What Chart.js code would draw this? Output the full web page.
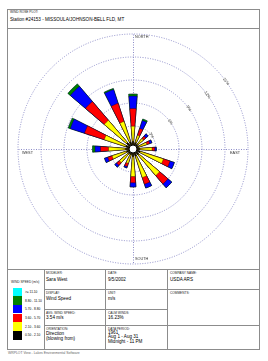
<!DOCTYPE html>
<html>
<head>
<meta charset="utf-8">
<script src="https://cdn.jsdelivr.net/npm/chart.js@4"></script>
<style>
    body { margin: 0; width: 268px; height: 361px; background: #fff; font-family: "Liberation Sans", Arial, sans-serif; color: #000; overflow: hidden; position: relative; }
    .hl { position: absolute; height: 1px; background: #8c8c8c; }
    .vl { position: absolute; width: 1px; background: #8c8c8c; }
    .cap { position: absolute; font-size: 3.2px; line-height: 4px; color: #222; white-space: nowrap; }
    .val { position: absolute; font-size: 4.6px; line-height: 5px; color: #000; white-space: nowrap; }
    .sw { position: absolute; left: 13px; width: 9px; }
    .sl { position: absolute; left: 25px; font-size: 3.2px; line-height: 4px; white-space: nowrap; }
</style>
</head>
<body>
<div style="position:absolute;left:7px;top:9px;width:253px;height:341px;border:1px solid #8c8c8c;box-sizing:border-box;"></div>
<div class="hl" style="left:7px;top:28px;width:253px;"></div>
<div class="hl" style="left:7px;top:269px;width:253px;"></div>
<div class="vl" style="left:44px;top:269px;height:80px;"></div>
<div class="vl" style="left:105px;top:269px;height:80px;"></div>
<div class="vl" style="left:167px;top:269px;height:80px;"></div>
<div class="hl" style="left:44px;top:289px;width:123px;"></div>
<div class="hl" style="left:44px;top:309px;width:123px;"></div>
<div class="hl" style="left:44px;top:325px;width:216px;"></div>
<div class="hl" style="left:167px;top:289px;width:93px;"></div>

<div class="cap" style="left:10px;top:10px;">WIND ROSE PLOT:</div>
<div class="val" style="left:10px;top:16.5px;">Station #24153 - MISSOULA/JOHNSON-BELL FLD, MT</div>

<canvas id="windRose" width="251" height="240" style="position:absolute;left:8px;top:29px;"></canvas>

<div class="cap" style="left:11px;top:280px;">WIND SPEED (m/s)</div>
<div id="speedLegend"></div>

<div class="cap" style="left:46px;top:270.5px;">MODELER:</div>
<div class="val" style="left:46px;top:277px;">Sara West</div>
<div class="cap" style="left:46px;top:290.5px;">DISPLAY:</div>
<div class="val" style="left:46px;top:296px;">Wind Speed</div>
<div class="cap" style="left:46px;top:310.5px;">AVG. WIND SPEED:</div>
<div class="val" style="left:46px;top:314.5px;">3.54 m/s</div>
<div class="cap" style="left:46px;top:326.5px;">ORIENTATION:</div>
<div class="val" style="left:46px;top:331px;">Direction<br>(blowing from)</div>

<div class="cap" style="left:108px;top:270.5px;">DATE:</div>
<div class="val" style="left:108px;top:277px;">9/5/2002</div>
<div class="cap" style="left:108px;top:290.5px;">UNIT:</div>
<div class="val" style="left:108px;top:296px;">m/s</div>
<div class="cap" style="left:108px;top:310.5px;">CALM WINDS:</div>
<div class="val" style="left:108px;top:314.5px;">16.23%</div>
<div class="cap" style="left:108px;top:326.5px;">DATA PERIOD:</div>
<div class="val" style="left:108px;top:330.5px;line-height:4.6px;">1961<br>Aug 1 - Aug 31<br>Midnight - 11 PM</div>

<div class="cap" style="left:170px;top:270.5px;">COMPANY NAME:</div>
<div class="val" style="left:170px;top:277px;">USDA ARS</div>
<div class="cap" style="left:170px;top:290.5px;">COMMENTS:</div>

<div class="cap" style="left:8px;top:351px;font-size:3.4px;color:#666;">WRPLOT View - Lakes Environmental Software</div>

<script>
// 16 directions, frequency (%) of each speed class
const directions = ['N', 'NNE', 'NE', 'ENE', 'E', 'ESE', 'SE', 'SSE', 'S', 'SSW', 'SW', 'WSW', 'W', 'WNW', 'NW', 'NNW'];
const speed1 = [1.0, 0.9, 0.8, 0.8, 0.9, 1.0, 1.0, 1.0, 1.0, 0.8, 0.8, 0.9, 1.0, 1.0, 1.1, 1.0];
const speed2 = [1.97, 0.99, 1.0, 1.1, 1.58, 3.17, 3.56, 2.91, 2.59, 1.16, 1.55, 1.97, 2.19, 2.94, 3.83, 2.78];
const speed3 = [2.31, 0.93, 0.4, 0.4, 0.35, 0.91, 1.44, 0.91, 0.82, 0.45, 0.45, 0.59, 1.05, 2.71, 3.23, 2.48];
const speed4 = [1.63, 1.09, 0.41, 0.3, 0.21, 0.59, 0.65, 0.53, 0.54, 0.2, 0.33, 0.45, 0.71, 1.95, 2.6, 1.89];
const speed5 = [0.26, 0.2, 0, 0, 0, 0, 0, 0, 0, 0, 0, 0, 0.33, 0.27, 0.41, 0.15];
const speed6 = [0, 0, 0, 0, 0, 0, 0, 0, 0, 0, 0, 0, 0, 0, 0, 0];

const speedLabels = ['0.50 - 2.10', '2.10 - 3.60', '3.60 - 5.70', '5.70 - 8.80', '8.80 - 11.10', '>= 11.10'];
const speedColors = ['#000000', '#ffff00', '#ff0000', '#0000ff', '#008000', '#00ffff'];
const rings = [3, 6, 9, 12, 15];

const gridColor = 'rgb(140, 140, 200)';
const petalWidth = 9;
const labelAngle = 54;

// legend boxes, top = highest class
let legendHtml = '';
for (let i = 5; i >= 0; i--) {
    let top = 287.5 + (5 - i) * 8.67;
    legendHtml += '<div class="sw" style="top:' + top + 'px;height:8.67px;background:' + speedColors[i] + '"></div>';
    legendHtml += '<div class="sl" style="top:' + (top + 2.4) + 'px">' + speedLabels[i] + '</div>';
}
document.getElementById('speedLegend').innerHTML = legendHtml;

// slots around the circle: petals and the gaps between them, starting at labelAngle
let slots = [];
let starts = directions.map((d, i) => {
    let a = i * 22.5 - petalWidth / 2;
    while (a < labelAngle) a += 360;
    return {from: a, idx: i};
}).sort((a, b) => a.from - b.from);
let cur = labelAngle;
starts.forEach(s => {
    if (s.from > cur) slots.push({idx: -1, angle: s.from - cur});
    slots.push({idx: s.idx, angle: petalWidth});
    cur = s.from + petalWidth;
});
if (cur < labelAngle + 360) slots.push({idx: -1, angle: labelAngle + 360 - cur});

// stacked (cumulative) values
const classes = [speed1, speed2, speed3, speed4, speed5, speed6];
let cumulative = [];
let running = directions.map(() => 0);
classes.forEach(c => {
    running = running.map((v, i) => v + c[i]);
    cumulative.push(running.slice());
});

const datasets = cumulative.map((cum, k) => ({
    label: speedLabels[k],
    data: slots.map(s => s.idx < 0 ? 0 : cum[s.idx]),
    backgroundColor: speedColors[k],
    borderColor: '#000',
    borderWidth: (c) => slots[c.dataIndex].idx < 0 ? 0 : 0.35,
    angle: (c) => slots[c.dataIndex].angle,
}));

const roseExtras = {
    id: 'roseExtras',
    beforeDatasetsDraw(chart) {
        const r = chart.scales.r;
        const c = chart.ctx;
        const x = r.xCenter + 0.5, y = r.yCenter + 0.5, R = r.drawingArea;
        c.save();
        c.strokeStyle = gridColor;
        c.lineWidth = 1;
        c.setLineDash([1, 1.5]);
        c.beginPath();
        c.moveTo(x, y - R); c.lineTo(x, y + R);
        c.moveTo(x - R, y); c.lineTo(x + R, y);
        c.stroke();
        c.restore();
    },
    afterDatasetsDraw(chart) {
        const r = chart.scales.r;
        const c = chart.ctx;
        const x = r.xCenter, y = r.yCenter, R = r.drawingArea;
        c.save();
        c.beginPath();
        c.arc(x, y, 4, 0, Math.PI * 2);
        c.fillStyle = '#fff';
        c.fill();
        c.strokeStyle = '#000';
        c.lineWidth = 1;
        c.stroke();
        c.fillStyle = '#333';
        c.font = '3.8px "Liberation Sans", Arial, sans-serif';
        c.textBaseline = 'middle';
        c.textAlign = 'left';
        c.fillText('NORTH', x + 2, y - R + 3);
        c.fillText('SOUTH', x + 2, y + R - 5.5);
        c.fillText('WEST', x - R + 4, y + 3.5);
        c.textAlign = 'right';
        c.fillText('EAST', x + R - 8, y + 3.5);
        c.restore();
    }
};

const ctx = document.getElementById('windRose');

new Chart(ctx, {
    type: 'polarArea',
    data: {
        labels: slots.map(s => s.idx < 0 ? '' : directions[s.idx]),
        datasets
    },
    options: {
        responsive: false,
        animation: false,
        layout: {padding: {top: 3, bottom: 2, left: 0, right: 0}},
        scales: {
            r: {
                min: 0,
                max: 15,
                startAngle: labelAngle,
                angleLines: {display: false},
                pointLabels: {display: false},
                grid: {circular: true, color: gridColor, lineWidth: 1},
                border: {dash: [1, 1.5]},
                afterBuildTicks: (scale) => {
                    scale.ticks = [0].concat(rings).map(v => ({value: v}));
                },
                ticks: {
                    font: {size: 4, family: '"Liberation Sans", Arial, sans-serif'},
                    color: '#222',
                    backdropColor: '#fff',
                    backdropPadding: 0,
                    callback: (v) => v + '%'
                }
            }
        },
        plugins: {
            legend: {display: false},
            tooltip: {enabled: false}
        }
    },
    plugins: [roseExtras]
});
</script>
</body>
</html>
